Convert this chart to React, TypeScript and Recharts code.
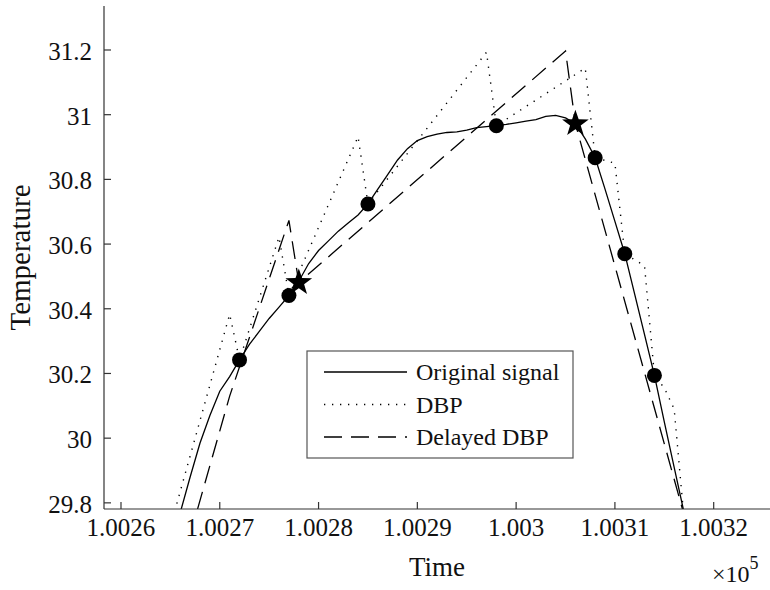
import { ComposedChart, Line, Scatter, XAxis, YAxis, Label } from 'recharts';

// Time stamps are absolute (x-axis shows them scaled by 1e5)
const originalTimes = [
  100265, 100266, 100267, 100268, 100269, 100270, 100271, 100272, 100273, 100274, 100275,
  100276, 100277, 100278, 100279, 100280, 100281, 100282, 100283, 100284, 100285, 100286,
  100287, 100288, 100289, 100290, 100291, 100292, 100293, 100294, 100295, 100296, 100297,
  100298, 100299, 100300, 100301, 100302, 100303, 100304, 100305, 100306, 100307, 100308,
  100309, 100310, 100311, 100312, 100313, 100314, 100315, 100316, 100317, 100318,
];
const originalTemps = [
  29.66, 29.77, 29.88, 29.985, 30.07, 30.145, 30.19, 30.242, 30.29, 30.33, 30.37,
  30.405, 30.441, 30.485, 30.54, 30.58, 30.61, 30.64, 30.665, 30.69, 30.724, 30.77,
  30.815, 30.86, 30.895, 30.92, 30.932, 30.94, 30.945, 30.947, 30.952, 30.96, 30.963,
  30.966, 30.97, 30.975, 30.98, 30.985, 30.995, 30.998, 30.99, 30.972, 30.925, 30.867,
  30.77, 30.67, 30.57, 30.445, 30.32, 30.194, 30.05, 29.91, 29.77, 29.63,
];

const dbpTimes = [
  100265, 100271, 100272, 100276, 100277, 100284, 100285, 100297, 100298, 100307, 100308,
  100310, 100311, 100313, 100314, 100315, 100316, 100317,
];
const dbpTemps = [
  29.726, 30.383, 30.242, 30.622, 30.441, 30.932, 30.724, 31.193, 30.966, 31.144, 30.867,
  30.85, 30.57, 30.533, 30.194, 30.155, 30.09, 29.75,
];

const delayedTimes = [100267, 100271, 100277, 100278, 100305, 100306, 100317, 100318];
const delayedTemps = [29.7, 30.13, 30.673, 30.481, 31.197, 30.972, 29.763, 29.653];

// samples sent by the node, and the delayed-detection points
const sampleTimes = [100272, 100277, 100285, 100298, 100308, 100311, 100314];
const sampleTemps = [30.242, 30.441, 30.724, 30.966, 30.867, 30.57, 30.194];
const starTimes = [100278, 100306];
const starTemps = [30.481, 30.972];

const xTicks = [100260, 100270, 100280, 100290, 100300, 100310, 100320];
const yTicks = [29.8, 30, 30.2, 30.4, 30.6, 30.8, 31, 31.2];

const zip = (ts: number[], vs: number[]) => ts.map((t, i) => ({ t, v: vs[i] }));
const originalData = zip(originalTimes, originalTemps);
const dbpData = zip(dbpTimes, dbpTemps);
const delayedData = zip(delayedTimes, delayedTemps);
const sampleData = zip(sampleTimes, sampleTemps);
const starData = zip(starTimes, starTemps);

const FONT = 'Liberation Serif, serif';
const AXIS = '#333';
const DOTTED = '1.3 6.7';
const DASHED = '18 9';

const XTick = (props: any) => {
  const { x, y, payload } = props;
  const label = parseFloat((payload.value / 1e5).toFixed(4)).toString();
  return (
    <text x={x} y={y + 34} textAnchor="middle" fontFamily={FONT} fontSize={25} fill="#111">
      {label}
    </text>
  );
};

const YTick = (props: any) => {
  const { x, y, payload } = props;
  return (
    <text x={x} y={y + 10} textAnchor="end" fontFamily={FONT} fontSize={25} fill="#111">
      {parseFloat(payload.value.toFixed(1)).toString()}
    </text>
  );
};

const Dot = (props: any) => <circle cx={props.cx} cy={props.cy} r={7.5} fill="#000" />;

const Star = (props: any) => {
  const { cx, cy } = props;
  const outer = 14;
  const inner = 5.6;
  const pts: string[] = [];
  for (let i = 0; i < 10; i++) {
    const r = i % 2 === 0 ? outer : inner;
    const a = -Math.PI / 2 + (i * Math.PI) / 5;
    pts.push(`${cx + r * Math.cos(a)},${cy + r * Math.sin(a)}`);
  }
  return <polygon points={pts.join(' ')} fill="#000" />;
};

const legendRows = [
  { name: 'Original signal', dash: undefined },
  { name: 'DBP', dash: DOTTED },
  { name: 'Delayed DBP', dash: DASHED },
];

const LegendBox = () => (
  <svg width={268} height={109} style={{ position: 'absolute', left: 306, top: 350, display: 'block' }}>
    <rect x={1} y={1} width={266} height={107} fill="#fff" stroke="#555" strokeWidth={1.2} />
    {legendRows.map((row, i) => {
      const y = 22 + i * 32.5;
      return (
        <g key={row.name}>
          <line x1={18} x2={101} y1={y} y2={y} stroke="#000" strokeWidth={1.3} strokeDasharray={row.dash} />
          <text x={110} y={y + 8} fontFamily={FONT} fontSize={24} fill="#111">
            {row.name}
          </text>
        </g>
      );
    })}
  </svg>
);

// multiplier note under the right end of the time axis
const ScaleNote = () => (
  <svg width={70} height={40} style={{ position: 'absolute', left: 700, top: 550, display: 'block' }}>
    <text x={12} y={32} fontFamily={FONT} fontSize={24} fill="#111">
      ×10
      <tspan dy={-13} fontSize={18}>5</tspan>
    </text>
  </svg>
);

export default function App() {
  return (
    <div style={{ position: 'absolute', left: 0, top: 0, width: 770, height: 590, background: '#fff', fontFamily: FONT }}>
      <ComposedChart width={770} height={590} margin={{ top: 6, right: 0, bottom: 0, left: 0 }}>
        <XAxis
          type="number"
          dataKey="t"
          domain={[100258.28, 100325.7]}
          allowDataOverflow
          ticks={xTicks}
          height={81}
          tickSize={-7}
          tickMargin={0}
          tick={<XTick />}
          stroke={AXIS}
          strokeWidth={1.2}
        >
          <Label value="Time" position="insideTop" offset={48} style={{ fontFamily: FONT, fontSize: 27, fill: '#111' }} />
        </XAxis>
        <YAxis
          type="number"
          dataKey="v"
          domain={[29.781, 31.336]}
          allowDataOverflow
          ticks={yTicks}
          width={104}
          tickSize={-7}
          tickMargin={19}
          tick={<YTick />}
          stroke={AXIS}
          strokeWidth={1.2}
        >
          <Label
            value="Temperature"
            angle={-90}
            position="insideLeft"
            offset={20}
            style={{ fontFamily: FONT, fontSize: 29, fill: '#111', textAnchor: 'middle' }}
          />
        </YAxis>
        <Line data={originalData} dataKey="v" type="linear" stroke="#000" strokeWidth={1.3} dot={false} isAnimationActive={false} />
        <Line data={dbpData} dataKey="v" type="linear" stroke="#000" strokeWidth={1.4} strokeDasharray={DOTTED} dot={false} isAnimationActive={false} />
        <Line data={delayedData} dataKey="v" type="linear" stroke="#000" strokeWidth={1.3} strokeDasharray={DASHED} dot={false} isAnimationActive={false} />
        <Scatter data={sampleData} dataKey="v" shape={<Dot />} isAnimationActive={false} />
        <Scatter data={starData} dataKey="v" shape={<Star />} isAnimationActive={false} />
      </ComposedChart>
      <LegendBox />
      <ScaleNote />
    </div>
  );
}
